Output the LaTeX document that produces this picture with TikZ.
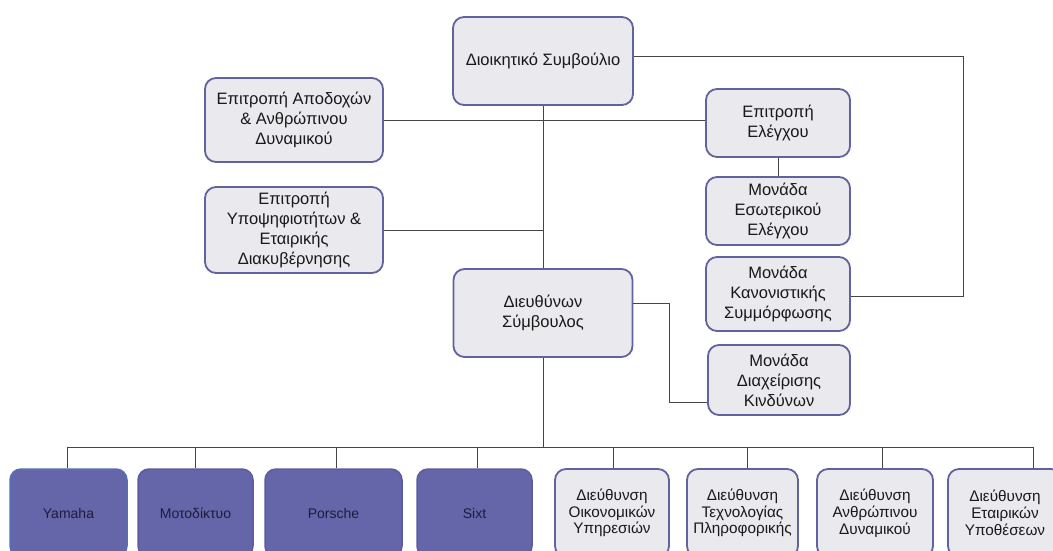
\documentclass[tikz,border=0pt]{standalone}
\usepackage{fontspec}
\setmainfont{Liberation Sans}
\usetikzlibrary{calc}
\definecolor{boxfill}{HTML}{E9E9EE}
\definecolor{boxline}{HTML}{62629E}
\definecolor{purfill}{HTML}{6566A9}
\definecolor{purline}{HTML}{5B5CA1}
\definecolor{yamline}{HTML}{5670B6}
\definecolor{conn}{HTML}{454545}
\definecolor{purtext}{HTML}{1C1C3A}
\tikzset{
  gbox/.style={draw=boxline, fill=boxfill, line width=1.8pt, rounded corners=11pt,
    inner sep=0pt, align=center, text=black!90,
    font=\fontsize{16.5}{20}\selectfont},
  sbox/.style={gbox, font=\fontsize{15.3}{16.8}\selectfont},
  pbox/.style={draw=purline, fill=purfill, line width=1.5pt, rounded corners=11pt,
    inner sep=0pt, align=center, text=purtext,
    font=\fontsize{14}{16.5}\selectfont},
  wire/.style={draw=conn, line width=0.9pt},
}
\begin{document}
\begin{tikzpicture}[x=1pt,y=-1pt]
\useasboundingbox (0,0) rectangle (1053,550);
\clip (0,0) rectangle (1053,550);
\fill[white] (0,0) rectangle (1053,550);

% top level boxes
\node[gbox, minimum width=180pt, minimum height=88pt] (dsb) at (543,61) {Διοικητικό Συμβούλιο};
\node[gbox, minimum width=178pt, minimum height=84pt] (ea) at (294,120) {Επιτροπή Αποδοχών\\\& Ανθρώπινου\\Δυναμικού};
\node[gbox, minimum width=178pt, minimum height=86pt] (eyp) at (294,230) {Επιτροπή\\Υποψηφιοτήτων \&\\Εταιρικής\\Διακυβέρνησης};
\node[gbox, minimum width=144pt, minimum height=68pt] (ee) at (778,123) {Επιτροπή\\Ελέγχου};
\node[gbox, minimum width=144pt, minimum height=68pt] (mee) at (778,211) {Μονάδα\\Εσωτερικού\\Ελέγχου};
\node[gbox, minimum width=144pt, minimum height=74pt] (mks) at (778,294) {Μονάδα\\Κανονιστικής\\Συμμόρφωσης};
\node[gbox, minimum width=179pt, minimum height=88pt] (ds) at (543,313) {Διευθύνων\\Σύμβουλος};
\node[gbox, minimum width=142pt, minimum height=70pt] (mdk) at (779,380) {Μονάδα\\Διαχείρισης\\Κινδύνων};

% bottom row
\node[pbox, draw=yamline, minimum width=117pt, minimum height=88pt] (yam) at (68.5,513) {Yamaha};
\node[pbox, minimum width=115pt, minimum height=88pt] (moto) at (195.5,513) {Μοτοδίκτυο};
\node[pbox, minimum width=137pt, minimum height=88pt] (por) at (333.5,513) {Porsche};
\node[pbox, minimum width=115pt, minimum height=88pt] (sixt) at (474.5,513) {Sixt};
\node[sbox, minimum width=114pt, minimum height=88pt] (oik) at (612,513) {Διεύθυνση\\Οικονομικών\\Υπηρεσιών};
\node[sbox, minimum width=111pt, minimum height=88pt] (tex) at (742.5,513) {Διεύθυνση\\Τεχνολογίας\\Πληροφορικής};
\node[sbox, minimum width=116pt, minimum height=88pt] (anth) at (875,513) {Διεύθυνση\\Ανθρώπινου\\Δυναμικού};
\node[sbox, minimum width=114pt, minimum height=88pt] (etai) at (1005,513) {Διεύθυνση\\Εταιρικών\\Υποθέσεων};

% connectors
\coordinate (bus) at (543,447);
\draw[wire] (dsb.south) -- (ds.north);
\draw[wire] (ea.east) -- (ea.east -| ee.west);
\draw[wire] (eyp.east) -- (eyp.east -| dsb.south);
\draw[wire] (ee.south) -- (mee.north);
\draw[wire] ([yshift=5pt]dsb.east) -- ++(330,0) |- ([yshift=-2pt]mks.east);
\draw[wire] ([yshift=10pt]ds.east) -- ++(36,0) |- ([yshift=-22pt]mdk.west);
\draw[wire] (ds.south) -- (bus);

\coordinate (s1) at (67,447);
\coordinate (s2) at (195,447);
\coordinate (s3) at (336,447);
\coordinate (s4) at (477,447);
\coordinate (s5) at (613,447);
\coordinate (s6) at (747,447);
\coordinate (s7) at (882,447);
\coordinate (s8) at (1033,447);
\draw[wire] (s1) -- (s8);
\draw[wire] (s1) -- (s1 |- yam.north);
\draw[wire] (s2) -- (s2 |- moto.north);
\draw[wire] (s3) -- (s3 |- por.north);
\draw[wire] (s4) -- (s4 |- sixt.north);
\draw[wire] (s5) -- (s5 |- oik.north);
\draw[wire] (s6) -- (s6 |- tex.north);
\draw[wire] (s7) -- (s7 |- anth.north);
\draw[wire] (s8) -- (s8 |- etai.north);
\end{tikzpicture}
\end{document}
